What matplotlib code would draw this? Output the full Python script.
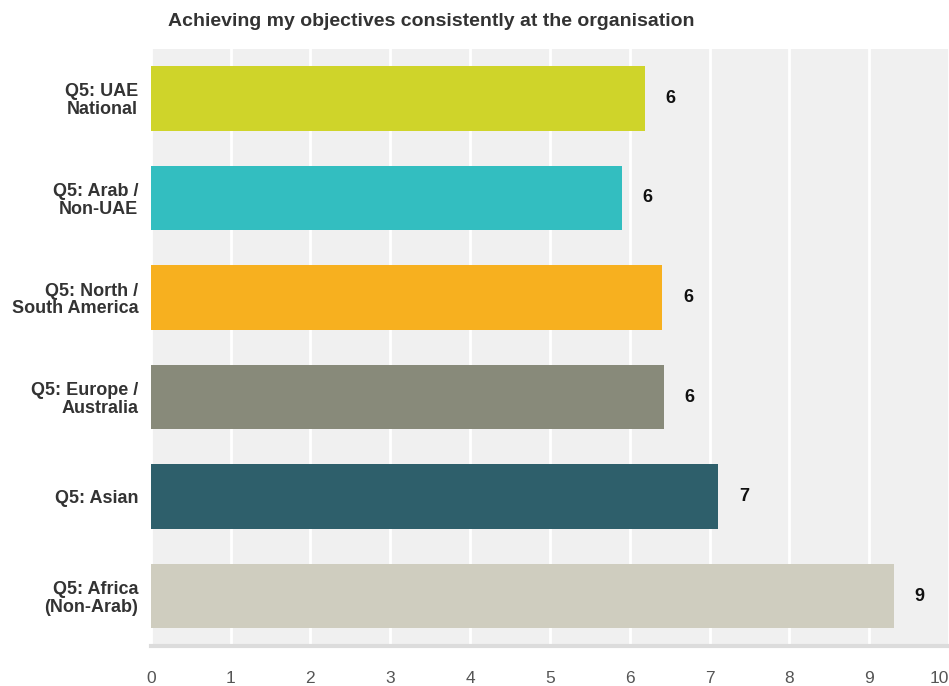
import matplotlib
matplotlib.use("Agg")
import matplotlib.pyplot as plt
import numpy as np

# --- Data ---
groups = ["Q5: UAE\nNational", "Q5: Arab /\nNon-UAE", "Q5: North /\nSouth America",
          "Q5: Europe /\nAustralia", "Q5: Asian", "Q5: Africa\n(Non-Arab)"]
scores = [6.19, 5.90, 6.41, 6.43, 7.11, 9.31]
bar_colors = ["#cfd42a", "#33bec0", "#f7b01f", "#888a7a", "#2e5f6b", "#cfcdbf"]
x_ticks = list(range(0, 11))

plt.rcParams["font.family"] = ["Liberation Sans", "DejaVu Sans"]

fig = plt.figure(figsize=(9.49, 6.86), dpi=100)
ax = fig.add_axes([0.1588, 0.0585, 0.8412, 0.8705])

y = np.arange(len(groups))
ax.barh(y, scores, height=0.65, color=bar_colors, zorder=3)

# value labels next to each bar
for yi, v in zip(y, scores):
    ax.annotate(f"{v:.0f}", xy=(v, yi), xytext=(15, 0), textcoords="offset points",
                va="center", ha="left", fontsize=13, fontweight="bold", color="#111111")

ax.set_xlim(0, 10)
ax.set_ylim(len(groups) - 0.5, -0.5)
ax.set_facecolor("#f0f0f0")
ax.set_xticks(x_ticks)
ax.set_yticks(y)
ax.set_yticklabels(groups, fontsize=13, fontweight="bold", color="#333333",
                   linespacing=1.05)
ax.tick_params(axis="x", length=0, pad=18, labelsize=12.5, labelcolor="#555555")
ax.tick_params(axis="y", length=0, pad=9)
# keep the last tick label inside the figure
ax.get_xticklabels()[-1].set_horizontalalignment("right")
ax.grid(axis="x", color="white", linewidth=2, zorder=1)
for side in ["top", "right", "left"]:
    ax.spines[side].set_visible(False)
ax.spines["bottom"].set_color("#dcdcdc")
ax.spines["bottom"].set_linewidth(3)

fig.text(168 / 949, 1 - 22 / 686, "Achieving my objectives consistently at the organisation",
         ha="left", va="center", fontsize=14, fontweight="bold", color="#333333")

fig.savefig("out.png", dpi=100)
